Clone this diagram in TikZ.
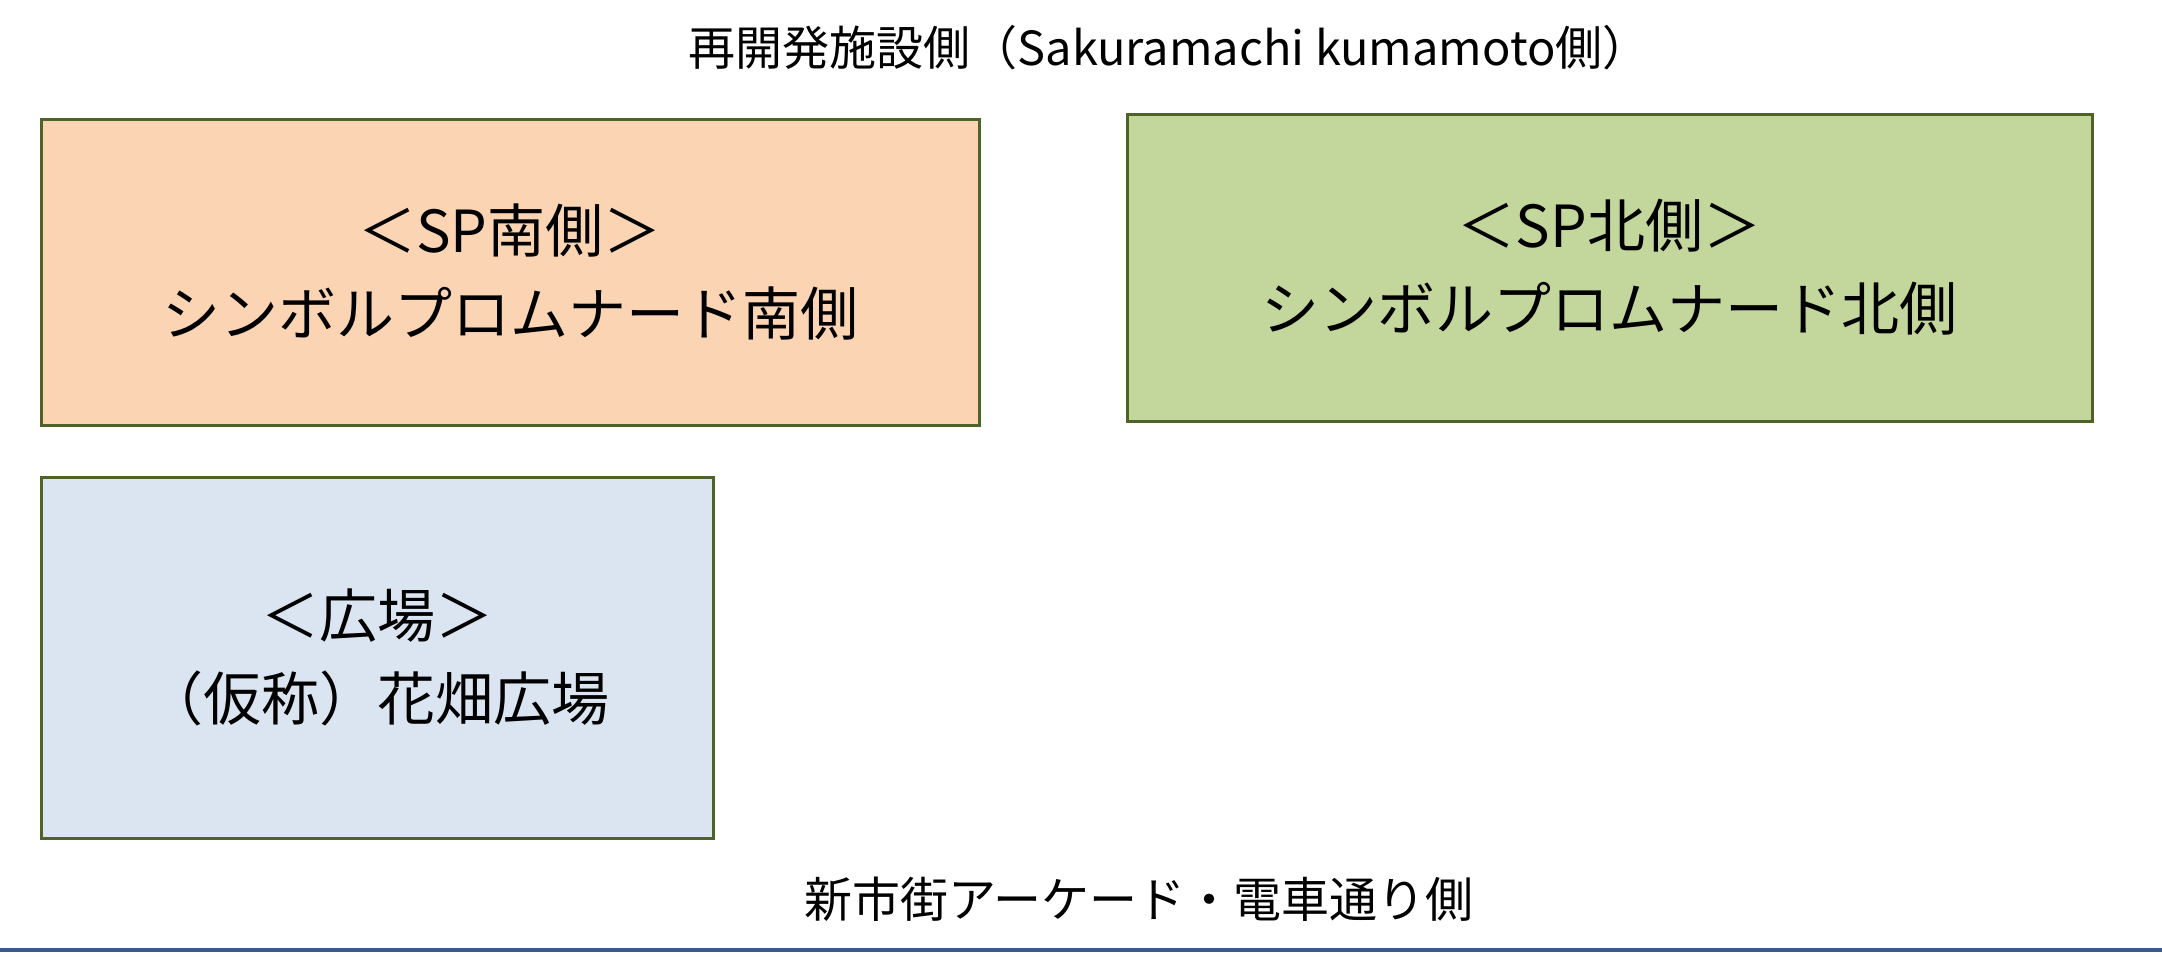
\documentclass[tikz,border=0pt]{standalone}
\usepackage{fontspec}
\setmainfont{Noto Sans CJK JP}
\definecolor{southfill}{HTML}{FBD4B4}
\definecolor{northfill}{HTML}{C3D69B}
\definecolor{plazafill}{HTML}{DBE5F1}
\definecolor{boxline}{HTML}{4F6228}
\definecolor{edgeblue}{HTML}{385D8A}
\tikzset{
  area/.style={draw=boxline, line width=3pt, rectangle, align=center, inner sep=0pt,
    font=\fontsize{58}{83}\selectfont},
  sidelabel/.style={inner sep=0pt, font=\fontsize{47}{56}\selectfont}
}
\begin{document}
\begin{tikzpicture}[x=1pt,y=-1pt]
\useasboundingbox[fill=white] (0,0) rectangle (2162,956);
\node[sidelabel] (top) at (1169,48) {再開発施設側（Sakuramachi kumamoto側）};
\node[area, fill=southfill, minimum width=938pt, minimum height=306pt] (south) at (510,272)
  {＜SP南側＞\\シンボルプロムナード南側};
\node[area, fill=northfill, minimum width=965pt, minimum height=307pt] (north) at (1609.5,267.5)
  {＜SP北側＞\\シンボルプロムナード北側};
\node[area, fill=plazafill, minimum width=672pt, minimum height=361pt] (plaza) at (377,657.5)
  {＜広場＞\\（仮称）花畑広場};
\node[sidelabel, font=\fontsize{48}{56}\selectfont] (bottom) at (1139,899) {新市街アーケード・電車通り側};
\coordinate (lineL) at (0,950);
\coordinate (lineR) at (2162,950);
\draw[draw=edgeblue, line width=4pt] (lineL) -- (lineR);
\end{tikzpicture}
\end{document}
